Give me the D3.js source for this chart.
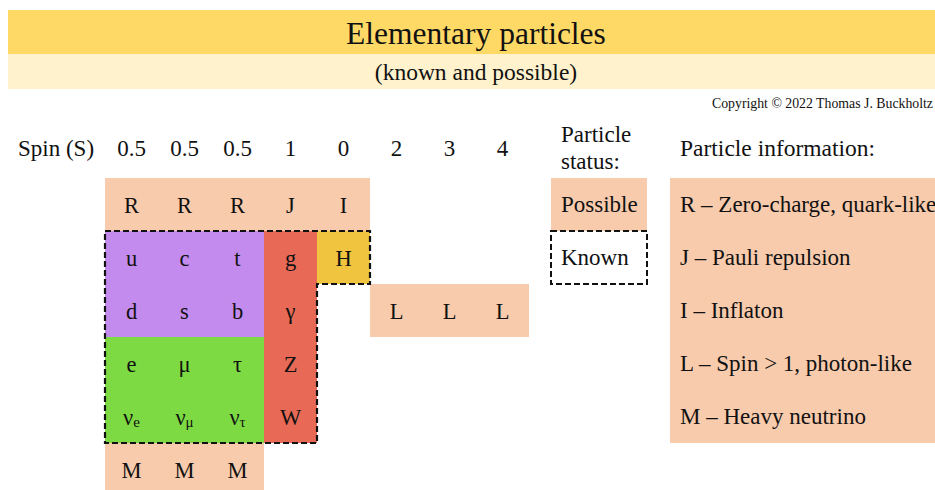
<!DOCTYPE html>
<html><head><meta charset="utf-8">
<script src="https://cdn.jsdelivr.net/npm/d3@7"></script>
<style>
html,body{margin:0;padding:0;background:#fff;}
svg{display:block;font-family:"Liberation Serif","DejaVu Serif",serif;}
</style></head>
<body><svg id="chart" width="935" height="490"></svg>
<script>
// ---- data ----
const titleText = "Elementary particles";
const subtitleText = "(known and possible)";
const copyrightText = "Copyright \u00a9 2022 Thomas J. Buckholtz";
const spinHeader = "Spin (S)";
const spinLabels = ["0.5","0.5","0.5","1","0","2","3","4"];
// possible particles
const possibleTop = ["R","R","R","J","I"];          // row 0, columns 0-4
const spinLike = ["L","L","L"];                      // row 2, columns 5-7
const heavyNeutrinos = ["M","M","M"];                // row 5, columns 0-2
// known particles
const quarks = [["u","c","t"],["d","s","b"]];        // rows 1-2, columns 0-2
const leptons = [["e","\u03bc","\u03c4"],["\u03bd|e","\u03bd|\u03bc","\u03bd|\u03c4"]]; // rows 3-4
const gaugeBosons = ["g","\u03b3","Z","W"];          // column 3, rows 1-4
const scalarBosons = ["H"];                          // column 4, row 1
const statusLabels = ["Possible","Known"];
const infoLines = ["R \u2013 Zero-charge, quark-like","J \u2013 Pauli repulsion","I \u2013 Inflaton","L \u2013 Spin > 1, photon-like","M \u2013 Heavy neutrino"];

const colors = {possible:"#F8CBAD", quark:"#C38BEE", lepton:"#7DDA43", gauge:"#E86A56", scalar:"#F0C43E", title:"#FFD966", subtitle:"#FFF2CC", text:"#111"};

// ---- build cell table ----
const cells = [];
possibleTop.forEach((l,i)=>cells.push({c:i,r:0,label:l,g:"possible"}));
spinLike.forEach((l,i)=>cells.push({c:5+i,r:2,label:l,g:"possible"}));
heavyNeutrinos.forEach((l,i)=>cells.push({c:i,r:5,label:l,g:"possible"}));
quarks.forEach((row,ri)=>row.forEach((l,ci)=>cells.push({c:ci,r:1+ri,label:l,g:"quark"})));
leptons.forEach((row,ri)=>row.forEach((l,ci)=>cells.push({c:ci,r:3+ri,label:l,g:"lepton"})));
gaugeBosons.forEach((l,i)=>cells.push({c:3,r:1+i,label:l,g:"gauge"}));
scalarBosons.forEach((l,i)=>cells.push({c:4,r:1+i,label:l,g:"scalar"}));

const svg = d3.select("#chart");
const W = 935;

// header bands
svg.append("rect").attr("x",8).attr("y",10).attr("width",W-8).attr("height",44).attr("fill",colors.title);
svg.append("rect").attr("x",8).attr("y",54).attr("width",W-8).attr("height",35).attr("fill",colors.subtitle);
svg.append("text").attr("x",476).attr("y",33).attr("text-anchor","middle").attr("dominant-baseline","central")
  .attr("font-size",31.5).attr("fill",colors.text).text(titleText);
svg.append("text").attr("x",476).attr("y",72).attr("text-anchor","middle").attr("dominant-baseline","central")
  .attr("font-size",23.5).attr("fill",colors.text).text(subtitleText);
svg.append("text").attr("x",933).attr("y",103).attr("text-anchor","end").attr("dominant-baseline","central")
  .attr("font-size",13.8).attr("fill",colors.text).text(copyrightText);

// scales
const x = d3.scaleBand().domain(d3.range(spinLabels.length)).range([105,105+53*spinLabels.length]).padding(0);
const y = d3.scaleBand().domain(d3.range(6)).range([178,178+53*6]).padding(0);

// spin header
svg.append("text").attr("x",18).attr("y",148).attr("dominant-baseline","central").attr("font-size",23)
  .attr("fill",colors.text).text(spinHeader);
svg.append("g").selectAll("text").data(spinLabels).join("text")
  .attr("x",(d,i)=>x(i)+x.bandwidth()/2).attr("y",148).attr("text-anchor","middle").attr("dominant-baseline","central")
  .attr("font-size",23).attr("fill",colors.text).text(d=>d);

// cells
const g = svg.append("g");
g.selectAll("rect").data(cells).join("rect")
  .attr("x",d=>x(d.c)).attr("y",d=>y(d.r)).attr("width",x.bandwidth()).attr("height",y.bandwidth())
  .attr("fill",d=>colors[d.g]).attr("shape-rendering","crispEdges");
const labels = g.selectAll("text").data(cells).join("text")
  .attr("x",d=>x(d.c)+x.bandwidth()/2).attr("y",d=>y(d.r)+y.bandwidth()/2)
  .attr("text-anchor","middle").attr("dominant-baseline","central").attr("font-size",22.5).attr("fill",colors.text);
labels.each(function(d){
  const parts = d.label.split("|");
  const t = d3.select(this);
  t.append("tspan").text(parts[0]);
  if(parts[1]) t.append("tspan").attr("font-size",15).attr("dy",5).text(parts[1]);
});

// dashed outline around known particles
const x0=x(0), x4=x(4)+x.bandwidth(), x3=x(3)+x.bandwidth();
const y1=y(1), y2=y(2), y5=y(4)+y.bandwidth();
const outline = d3.path();
outline.moveTo(x0,y1); outline.lineTo(x4,y1); outline.lineTo(x4,y2); outline.lineTo(x3,y2);
outline.lineTo(x3,y5); outline.lineTo(x0,y5); outline.closePath();
svg.append("path").attr("d",outline.toString()).attr("fill","none").attr("stroke","#111")
  .attr("stroke-width",2.2).attr("stroke-dasharray","6,3");

// status legend
svg.append("text").attr("x",561).attr("y",134).attr("dominant-baseline","central").attr("font-size",23).attr("fill",colors.text).text("Particle");
svg.append("text").attr("x",561).attr("y",161).attr("dominant-baseline","central").attr("font-size",23).attr("fill",colors.text).text("status:");
const lg = svg.append("g");
lg.selectAll("rect").data(statusLabels).join("rect")
  .attr("x",551).attr("y",(d,i)=>y(i)).attr("width",96).attr("height",y.bandwidth())
  .attr("fill",(d,i)=>i===0?colors.possible:"#fff")
  .attr("stroke",(d,i)=>i===0?"none":"#111").attr("stroke-width",2).attr("stroke-dasharray","6,3");
lg.selectAll("text").data(statusLabels).join("text")
  .attr("x",561).attr("y",(d,i)=>y(i)+y.bandwidth()/2).attr("dominant-baseline","central")
  .attr("font-size",23).attr("fill",colors.text).text(d=>d);

// info panel
svg.append("text").attr("x",680).attr("y",148).attr("dominant-baseline","central").attr("font-size",23.5).attr("fill",colors.text).text("Particle information:");
svg.append("rect").attr("x",670).attr("y",y(0)).attr("width",W-670).attr("height",y.bandwidth()*infoLines.length).attr("fill",colors.possible);
svg.append("g").selectAll("text").data(infoLines).join("text")
  .attr("x",680).attr("y",(d,i)=>y(i)+y.bandwidth()/2).attr("dominant-baseline","central")
  .attr("font-size",23).attr("fill",colors.text).text(d=>d);
</script></body></html>
